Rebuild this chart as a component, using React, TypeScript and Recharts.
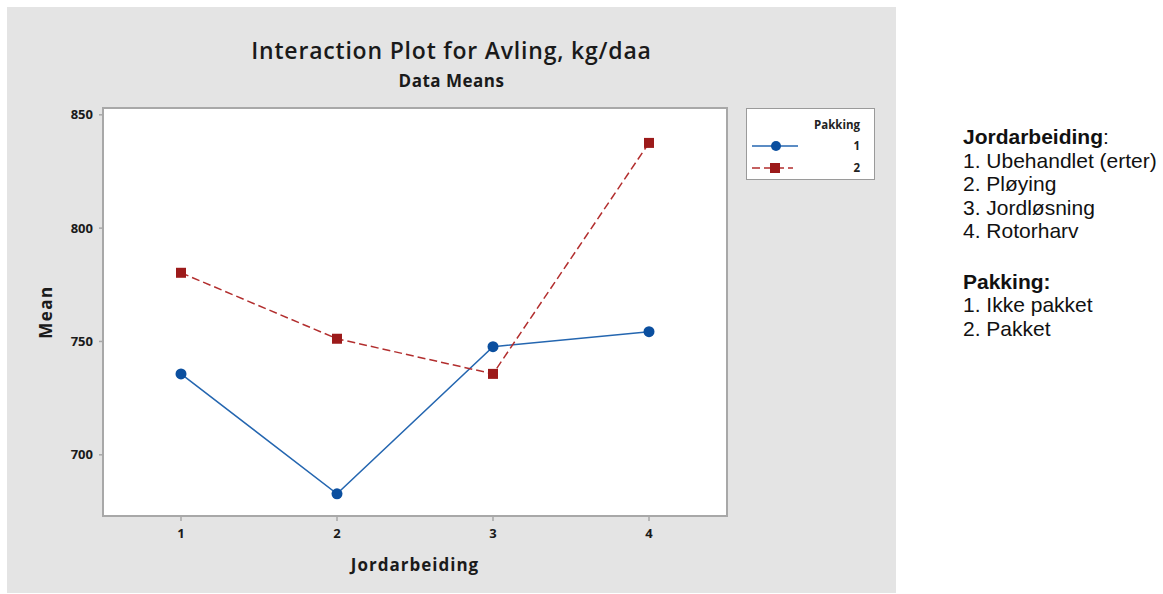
import { LineChart, Line, XAxis, YAxis, ReferenceArea } from 'recharts';

// Jordarbeiding levels (x) and mean yield per Pakking level
const jordarbeiding = [1, 2, 3, 4];
const pakking1 = [735.7, 682.8, 747.7, 754.3];
const pakking2 = [780.3, 751.2, 735.7, 837.6];
const yTicks = [700, 750, 800, 850];

const jordNotes = ['1. Ubehandlet (erter)', '2. Pløying', '3. Jordløsning', '4. Rotorharv'];
const pakkNotes = ['1. Ikke pakket', '2. Pakket'];

const data = jordarbeiding.map((j, i) => ({ j, p1: pakking1[i], p2: pakking2[i] }));

const BLUE_LINE = '#2466b0';
const BLUE_DOT = '#0b4f9f';
const RED_LINE = '#b22e2e';
const RED_DOT = '#9c1a1a';
const FONT = '"Open Sans", "DejaVu Sans", sans-serif';

const SquareDot = (props: any) => {
  const { cx, cy, index } = props;
  if (cx == null || cy == null) return null;
  return <rect key={'sq' + index} x={cx - 5} y={cy - 5} width={10} height={10} fill={RED_DOT} />;
};

const CircleDot = (props: any) => {
  const { cx, cy, index } = props;
  if (cx == null || cy == null) return null;
  return <circle key={'c' + index} cx={cx} cy={cy} r={5.5} fill={BLUE_DOT} />;
};

const LegendBox = () => (
  <svg width={130} height={73} style={{ display: 'block' }}>
    <rect x={0.5} y={0.5} width={128} height={71} fill="#fff" stroke="#9a9a9a" />
    <text x={114} y={21} textAnchor="end" fontFamily={FONT} fontWeight={700} fontSize={11.5} fill="#222">
      Pakking
    </text>
    <line x1={6} x2={52} y1={38} y2={38} stroke={BLUE_LINE} strokeWidth={1.5} />
    <circle cx={30} cy={38} r={5} fill={BLUE_DOT} />
    <text x={114} y={42} textAnchor="end" fontFamily={FONT} fontWeight={700} fontSize={11.5} fill="#222">1</text>
    <line x1={6} x2={47} y1={60} y2={60} stroke={RED_LINE} strokeWidth={1.5} strokeDasharray="8 4" />
    <rect x={24} y={55} width={10} height={10} fill={RED_DOT} />
    <text x={114} y={64} textAnchor="end" fontFamily={FONT} fontWeight={700} fontSize={11.5} fill="#222">2</text>
  </svg>
);

export default function App() {
  const tick = { fill: '#1a1a1a', fontSize: 13, fontWeight: 700, fontFamily: FONT };
  return (
    <div style={{ position: 'absolute', left: 0, top: 0, width: 1163, height: 594, background: '#fff' }}>
      <div style={{ position: 'absolute', left: 7, top: 7, width: 889, height: 586, background: '#e4e4e4' }}>
        <div
          style={{
            position: 'absolute', left: 0, width: 889, top: 27, textAlign: 'center',
            fontFamily: FONT, fontWeight: 600, fontSize: 23, color: '#1a1a1a', letterSpacing: 0.8,
          }}
        >
          Interaction Plot for Avling, kg/daa
        </div>
        <div
          style={{
            position: 'absolute', left: 0, width: 889, top: 62, textAlign: 'center',
            fontFamily: FONT, fontWeight: 700, fontSize: 17, color: '#1a1a1a', letterSpacing: 0.5,
          }}
        >
          Data Means
        </div>
        <LineChart
          width={889}
          height={586}
          data={data}
          margin={{ top: 101, right: 169, bottom: 47, left: 36 }}
          style={{ position: 'absolute', left: 0, top: 0 }}
        >
          <XAxis
            dataKey="j"
            type="number"
            domain={[0.5, 4.5]}
            ticks={jordarbeiding}
            allowDataOverflow
            height={30}
            tick={tick}
            tickSize={5}
            tickMargin={8}
            stroke="#a8a8a8"
            strokeWidth={2}
            tickLine={{ stroke: '#a8a8a8', strokeWidth: 1.5 }}
            label={{
              value: 'Jordarbeiding', position: 'insideBottom', offset: -25,
              style: { fontFamily: FONT, fontWeight: 700, fontSize: 17, fill: '#1a1a1a', letterSpacing: 1 },
            }}
          />
          <YAxis
            type="number"
            domain={[673, 853]}
            ticks={yTicks}
            allowDataOverflow
            width={60}
            tick={tick}
            tickSize={4}
            tickMargin={6}
            stroke="#a8a8a8"
            strokeWidth={2}
            tickLine={{ stroke: '#a8a8a8', strokeWidth: 1.5 }}
            label={{
              value: 'Mean', angle: -90, position: 'insideLeft', offset: 3,
              style: { fontFamily: FONT, fontWeight: 700, fontSize: 17, fill: '#1a1a1a', letterSpacing: 1.5, textAnchor: 'middle' },
            }}
          />
          <ReferenceArea x1={0.5} x2={4.5} y1={673} y2={853} fill="#ffffff" fillOpacity={1} stroke="#a8a8a8" strokeWidth={2} />
          <Line
            dataKey="p1"
            stroke={BLUE_LINE}
            strokeWidth={1.5}
            dot={CircleDot}
            activeDot={false}
            isAnimationActive={false}
          />
          <Line
            dataKey="p2"
            stroke={RED_LINE}
            strokeWidth={1.5}
            strokeDasharray="8 4"
            dot={SquareDot}
            activeDot={false}
            isAnimationActive={false}
          />
        </LineChart>
        <div style={{ position: 'absolute', left: 739, top: 101 }}>
          <LegendBox />
        </div>
      </div>
      <div
        style={{
          position: 'absolute', left: 963, top: 125, fontFamily: '"Liberation Sans", Arial, sans-serif',
          fontSize: 21, lineHeight: '23.5px', color: '#111',
        }}
      >
        <div><b>Jordarbeiding</b>:</div>
        {jordNotes.map((t) => <div key={t}>{t}</div>)}
        <div style={{ height: 27 }} />
        <div><b>Pakking:</b></div>
        {pakkNotes.map((t) => <div key={t}>{t}</div>)}
      </div>
    </div>
  );
}
